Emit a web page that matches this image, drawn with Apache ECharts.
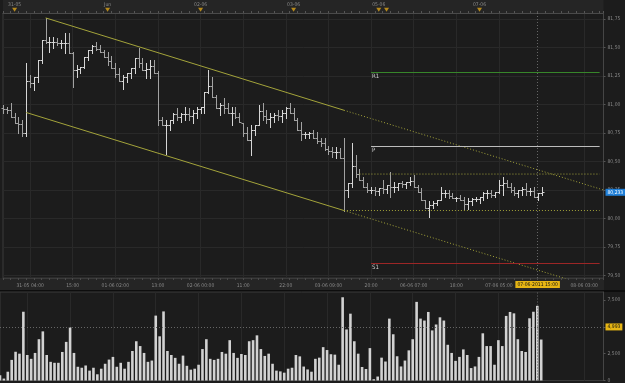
<!DOCTYPE html>
<html lang="en">
<head>
<meta charset="UTF-8">
<script src="https://cdn.jsdelivr.net/npm/echarts@6/dist/echarts.min.js"></script>
<style>
    html, body { margin: 0; padding: 0; background: #1c1c1c; }
    #chart { width: 625px; height: 383px; }
</style>
</head>
<body>
<div id="chart"></div>
<script>
// hourly OHLC, 30-05 to 07-06
var opens = [80.97,80.96,80.95,80.89,80.84,80.83,80.75,81.21,81.19,81.24,81.39,81.57,81.55,81.55,81.55,81.54,81.54,81.54,81.45,81.30,
    81.31,81.33,81.42,81.48,81.51,81.49,81.46,81.42,81.38,81.32,81.27,81.21,81.24,81.28,81.32,81.41,81.36,81.30,81.31,81.34,
    81.28,80.86,80.82,80.82,80.86,80.92,80.89,80.92,80.92,80.90,80.93,80.96,80.98,81.11,81.16,81.07,80.97,81.00,80.97,80.93,
    80.93,80.89,80.84,80.75,80.69,80.78,80.82,80.94,80.90,80.87,80.89,80.91,80.90,80.93,80.97,80.93,80.86,80.78,80.74,80.74,
    80.75,80.71,80.68,80.66,80.61,80.59,80.58,80.58,80.53,80.25,80.31,80.46,80.39,80.34,80.28,80.25,80.25,80.24,80.27,80.26,
    80.29,80.28,80.28,80.31,80.30,80.32,80.33,80.28,80.23,80.16,80.09,80.12,80.14,80.16,80.22,80.22,80.20,80.18,80.18,80.16,
    80.13,80.15,80.17,80.17,80.19,80.22,80.22,80.21,80.23,80.29,80.31,80.28,80.25,80.22,80.25,80.26,80.24,80.24,80.19,80.22];
var highs = [81.00,80.98,81.01,80.93,80.89,80.86,81.36,81.26,81.24,81.39,81.57,81.76,81.59,81.59,81.58,81.57,81.63,81.63,81.46,81.35,
    81.33,81.42,81.48,81.52,81.55,81.52,81.48,81.46,81.43,81.36,81.32,81.26,81.28,81.32,81.41,81.50,81.41,81.36,81.39,81.39,
    81.29,80.89,80.86,80.86,80.93,80.97,80.93,80.98,80.97,80.95,80.98,80.98,81.11,81.30,81.24,81.08,81.01,81.06,81.01,80.98,
    80.98,80.93,80.84,80.80,80.82,80.82,81.00,81.01,80.95,80.93,80.93,80.95,80.95,80.98,81.01,80.97,80.88,80.85,80.76,80.76,
    80.78,80.76,80.71,80.71,80.64,80.63,80.63,80.62,80.71,80.31,80.66,80.56,80.43,80.36,80.31,80.28,80.28,80.27,80.34,80.29,
    80.41,80.32,80.31,80.33,80.32,80.36,80.38,80.29,80.27,80.16,80.15,80.15,80.16,80.28,80.25,80.25,80.22,80.19,80.21,80.19,
    80.18,80.18,80.19,80.19,80.23,80.25,80.25,80.23,80.34,80.36,80.34,80.31,80.28,80.25,80.28,80.31,80.27,80.28,80.22,80.28];
var lows = [80.93,80.93,80.89,80.84,80.75,80.72,80.72,81.15,81.13,81.20,81.36,81.54,81.46,81.50,81.52,81.50,81.45,81.45,81.15,81.24,
    81.28,81.32,81.39,81.45,81.48,81.46,81.42,81.35,81.32,81.24,81.21,81.14,81.20,81.23,81.28,81.33,81.30,81.23,81.23,81.28,
    80.82,80.82,80.57,80.78,80.84,80.86,80.85,80.86,80.86,80.84,80.88,80.93,80.93,81.10,81.07,80.97,80.91,80.93,80.93,80.82,
    80.88,80.85,80.72,80.69,80.56,80.73,80.82,80.86,80.84,80.80,80.85,80.86,80.85,80.88,80.93,80.86,80.78,80.69,80.71,80.71,
    80.71,80.66,80.64,80.60,80.57,80.54,80.53,80.53,80.07,80.19,80.28,80.36,80.34,80.28,80.23,80.22,80.21,80.21,80.22,80.22,
    80.19,80.23,80.25,80.28,80.27,80.29,80.28,80.23,80.16,80.09,80.01,80.09,80.12,80.16,80.19,80.18,80.18,80.15,80.16,80.08,
    80.08,80.12,80.15,80.14,80.16,80.18,80.19,80.19,80.22,80.21,80.28,80.23,80.21,80.19,80.21,80.21,80.21,80.19,80.16,80.21];
var closes = [80.96,80.95,80.89,80.84,80.83,80.75,81.21,81.19,81.24,81.39,81.57,81.55,81.55,81.55,81.54,81.54,81.54,81.45,81.30,81.31,
    81.33,81.42,81.48,81.51,81.49,81.46,81.42,81.38,81.32,81.27,81.21,81.24,81.28,81.32,81.41,81.36,81.30,81.31,81.34,81.28,
    80.86,80.82,80.82,80.86,80.92,80.89,80.92,80.92,80.90,80.93,80.96,80.98,81.11,81.16,81.07,80.97,81.00,80.97,80.93,80.93,
    80.89,80.85,80.75,80.69,80.78,80.82,80.94,80.90,80.87,80.89,80.91,80.90,80.93,80.97,80.93,80.86,80.78,80.74,80.74,80.75,
    80.71,80.68,80.66,80.61,80.59,80.58,80.58,80.53,80.25,80.31,80.46,80.39,80.34,80.28,80.25,80.25,80.24,80.27,80.26,80.29,
    80.28,80.28,80.31,80.30,80.32,80.33,80.28,80.23,80.16,80.09,80.12,80.14,80.16,80.22,80.22,80.20,80.18,80.18,80.16,80.13,
    80.15,80.17,80.17,80.19,80.22,80.22,80.21,80.23,80.29,80.31,80.28,80.25,80.22,80.25,80.26,80.24,80.24,80.19,80.22,80.23];
var volumes = [490,180,820,1920,2680,2500,6410,2380,2020,2570,3850,4580,2380,1740,1650,1650,2660,3600,4950,2570,
    1280,1190,1400,920,1190,580,1100,1560,1950,2200,1280,1650,1100,1740,2750,3660,3210,2570,1740,1860,
    6050,4120,6440,2750,2380,2110,1560,2320,1370,1010,1100,1470,2930,3850,2020,1920,2020,2660,2500,3760,
    2570,2110,2470,2380,3660,3760,4210,2930,2290,2500,1560,920,850,730,1100,1190,2380,2250,1300,1030,
    820,2020,2130,3110,2840,2450,2410,1470,7760,4760,6230,3660,2500,1260,1070,3020,120,370,2130,1770,
    5770,4310,2260,1310,1860,2810,3850,7330,5770,5590,6390,4670,5220,5890,5590,3330,2570,1830,2200,2900,
    2380,1160,1310,2200,4400,3210,3210,1470,3760,3210,6020,6390,6260,3850,2750,2660,5800,6410,6960,3820];

var slotCount = 156;   // hourly slots incl. empty space on the right
var timeTickIdx = [7, 18, 29, 40, 51, 62, 73, 84, 95, 106, 117, 128, 150];
var timeTickText = ['31-05 04:00', '15:00', '01-06 02:00', '13:00', '02-06 00:00', '11:00', '22:00',
    '03-06 09:00', '20:00', '06-06 07:00', '18:00', '07-06 05:00', '08-06 03:00'];
var dayIdx = [3, 27, 51, 75, 97, 99, 123];
var dayText = ['31-05', 'Jun', '02-06', '03-06', '05-06', '', '07-06'];
var priceTicks = [79.5, 79.75, 80, 80.25, 80.5, 80.75, 81, 81.25, 81.5, 81.75];
var volumeTicks = [0, 2500, 5000, 7500];

// trend channel anchors [slot, price]
var upperChannel = [[11, 81.76], [88, 80.95], [155, 80.25]];
var lowerChannel = [[6, 80.93], [88, 80.07], [155, 79.37]];
var rangeTop = [[92, 80.39], [154, 80.39]];
var rangeBottom = [[88, 80.07], [154, 80.07]];
var pivotNames = ['R1', 'P', 'S1'];
var pivotValues = [81.28, 80.63, 79.61];
var pivotFrom = 95, pivotTo = 154;
var cursorIdx = 138, cursorTime = '07-06-2011 15:00', cursorVolume = 4993, lastPrice = 80.233;

var txt = '#8a8a8a', gridLine = '#292929', chan = '#a3a33a';
var pivotColors = ['#37862a', '#bdbdbd', '#9c2626'];
var fam = "'Liberation Sans Narrow', 'DejaVu Sans Condensed', 'Liberation Sans', sans-serif";
var fs = 5;

var timeCats = [], dayCats = [];
for (var i = 0; i < slotCount; i++) { timeCats.push(''); dayCats.push(''); }
timeTickIdx.forEach(function (t, k) { timeCats[t] = timeTickText[k]; });
dayIdx.forEach(function (t, k) { dayCats[t] = dayText[k]; });
var isTimeTick = function (i) { return timeTickIdx.indexOf(i) >= 0; };

var ohlcData = opens.map(function (o, i) { return [i, o, highs[i], lows[i], closes[i]]; });

function renderOhlc(params, api) {
    var i = api.value(0);
    var o = api.coord([i, api.value(1)]);
    var h = api.coord([i, api.value(2)]);
    var l = api.coord([i, api.value(3)]);
    var c = api.coord([i, api.value(4)]);
    var x = Math.round(o[0]) + 0.5;
    var yo = Math.round(o[1]) + 0.5, yc = Math.round(c[1]) + 0.5;
    var st = { stroke: api.value(4) >= api.value(1) ? '#d6d6d6' : '#a2a2a2', lineWidth: 1 };
    return {
        type: 'group',
        children: [
            { type: 'line', shape: { x1: x, y1: Math.round(h[1]), x2: x, y2: Math.round(l[1]) + 1 }, style: st },
            { type: 'line', shape: { x1: x - 2, y1: yo, x2: x, y2: yo }, style: st },
            { type: 'line', shape: { x1: x, y1: yc, x2: x + 2, y2: yc }, style: st }
        ]
    };
}

var font = { fontFamily: fam, fontSize: fs, color: txt };
var tag = function (bg, fg) {
    return { backgroundColor: bg, color: fg, padding: [1, 2], fontFamily: fam, fontSize: fs };
};

var pivotLines = pivotNames.map(function (n, k) {
    return [
        { coord: [pivotFrom, pivotValues[k]], name: n,
          lineStyle: { color: pivotColors[k], width: 1, type: 'solid' },
          label: { show: true, position: 'insideStartBottom', formatter: '{b}', distance: 1,
                   color: '#cfcfcf', fontFamily: fam, fontSize: fs + 1 } },
        { coord: [pivotTo, pivotValues[k]] }
    ];
});

var myChart = echarts.init(document.getElementById('chart'));
myChart.setOption({
    backgroundColor: '#1c1c1c',
    animation: false,
    graphic: [
        { type: 'rect', z: -10, shape: { x: 0, y: 278, width: 604, height: 12 }, style: { fill: '#252525' } },
        { type: 'rect', z: -10, shape: { x: 0, y: 290, width: 625, height: 2 }, style: { fill: '#0d0d0d' } }
    ],
    grid: [
        { left: -1, right: 21.5, top: 13, height: 265, show: true, backgroundColor: '#1c1c1c', borderColor: '#3a3a3a' },
        { left: -1, right: 21.5, top: 292, height: 90, show: true, backgroundColor: '#1c1c1c', borderColor: '#3a3a3a' },
        { left: -1, right: 21.5, top: 0, height: 13, show: true, backgroundColor: '#252525', borderWidth: 0 }
    ],
    xAxis: [
        { type: 'category', gridIndex: 0, data: timeCats, boundaryGap: false,
          axisLine: { lineStyle: { color: '#3a3a3a' } },
          axisTick: { show: true, interval: 1, length: 2, lineStyle: { color: '#4a4a4a' } },
          axisLabel: Object.assign({ interval: 0, margin: 5 }, font),
          splitLine: { show: true, interval: function (i) { return isTimeTick(i); }, lineStyle: { color: gridLine } } },
        { type: 'category', gridIndex: 1, data: timeCats, boundaryGap: false,
          axisLine: { show: false }, axisTick: { show: false }, axisLabel: { show: false },
          splitLine: { show: true, interval: function (i) { return isTimeTick(i); }, lineStyle: { color: gridLine } } },
        { type: 'category', gridIndex: 2, data: dayCats, boundaryGap: false,
          axisLine: { lineStyle: { color: '#4a4a4a' } },
          axisTick: { show: true, inside: true, interval: 1, length: 2, lineStyle: { color: '#555' } },
          axisLabel: Object.assign({ inside: true, interval: 0, margin: 6 }, font),
          splitLine: { show: false } }
    ],
    yAxis: [
        { type: 'value', gridIndex: 0, position: 'right', min: 79.478, max: 81.803,
          axisLine: { show: true, lineStyle: { color: '#454545' } },
          axisTick: { show: true, length: 2, customValues: priceTicks, lineStyle: { color: '#555' } },
          axisLabel: Object.assign({ margin: 4, customValues: priceTicks,
              formatter: function (v) { return v.toFixed(2).replace('.', ','); } }, font),
          splitLine: { show: true, lineStyle: { color: gridLine } } },
        { type: 'value', gridIndex: 1, position: 'right', min: 0, max: 8250,
          axisLine: { show: true, lineStyle: { color: '#454545' } },
          axisTick: { show: true, length: 2, customValues: volumeTicks, lineStyle: { color: '#555' } },
          axisLabel: Object.assign({ margin: 4, customValues: volumeTicks,
              formatter: function (v) { return v.toLocaleString('en-US'); } }, font),
          splitLine: { show: false } },
        { type: 'value', gridIndex: 2, min: 0, max: 1, show: false }
    ],
    series: [
        {
            name: 'price', type: 'custom', xAxisIndex: 0, yAxisIndex: 0,
            renderItem: renderOhlc, data: ohlcData, encode: { x: 0, y: [1, 2, 3, 4] }, z: 3,
            markLine: {
                silent: true, symbol: 'none', animation: false,
                data: pivotLines.concat([
                    { xAxis: cursorIdx, lineStyle: { color: '#666', type: [1, 2], width: 1 },
                      label: Object.assign({ show: true, position: 'start', distance: 3, formatter: cursorTime }, tag('#e6b514', '#111')) },
                    { yAxis: lastPrice, lineStyle: { color: 'rgba(0,0,0,0)', width: 1 },
                      label: Object.assign({ show: true, position: 'end', distance: 2,
                               formatter: lastPrice.toFixed(3).replace('.', ',') }, tag('#1f7fd8', '#fff')) }
                ])
            }
        },
        { name: 'upper', type: 'line', xAxisIndex: 0, yAxisIndex: 0, data: upperChannel.slice(0, 2), symbol: 'none',
          lineStyle: { color: chan, width: 1 }, z: 4 },
        { name: 'upperExt', type: 'line', xAxisIndex: 0, yAxisIndex: 0, data: upperChannel.slice(1), symbol: 'none',
          lineStyle: { color: chan, width: 1, type: [1, 2] }, z: 4 },
        { name: 'lower', type: 'line', xAxisIndex: 0, yAxisIndex: 0, data: lowerChannel.slice(0, 2), symbol: 'none',
          lineStyle: { color: chan, width: 1 }, z: 4 },
        { name: 'lowerExt', type: 'line', xAxisIndex: 0, yAxisIndex: 0, data: lowerChannel.slice(1), symbol: 'none',
          lineStyle: { color: chan, width: 1, type: [1, 2] }, z: 4 },
        { name: 'rangeTop', type: 'line', xAxisIndex: 0, yAxisIndex: 0, data: rangeTop, symbol: 'none',
          lineStyle: { color: chan, width: 1, type: [1, 2] }, z: 4 },
        { name: 'rangeBottom', type: 'line', xAxisIndex: 0, yAxisIndex: 0, data: rangeBottom, symbol: 'none',
          lineStyle: { color: chan, width: 1, type: [1, 2] }, z: 4 },
        {
            name: 'volume', type: 'bar', xAxisIndex: 1, yAxisIndex: 1, data: volumes, barWidth: 2.6,
            itemStyle: { color: '#d2d2d2' },
            markLine: {
                silent: true, symbol: 'none', animation: false,
                data: [
                    { xAxis: cursorIdx, lineStyle: { color: '#666', type: [1, 2], width: 1 }, label: { show: false } },
                    { yAxis: cursorVolume, lineStyle: { color: '#666', type: [1, 2], width: 1 },
                      label: Object.assign({ show: true, position: 'end', distance: 2,
                               formatter: cursorVolume.toLocaleString('en-US') }, tag('#e6b514', '#111')) }
                ]
            }
        },
        {
            name: 'days', type: 'scatter', xAxisIndex: 2, yAxisIndex: 2,
            data: dayIdx.map(function (d) { return [d, 0.25]; }),
            symbol: 'triangle', symbolRotate: 180, symbolSize: [5, 4],
            itemStyle: { color: '#d9a21b' }
        }
    ]
});
</script>
</body>
</html>
